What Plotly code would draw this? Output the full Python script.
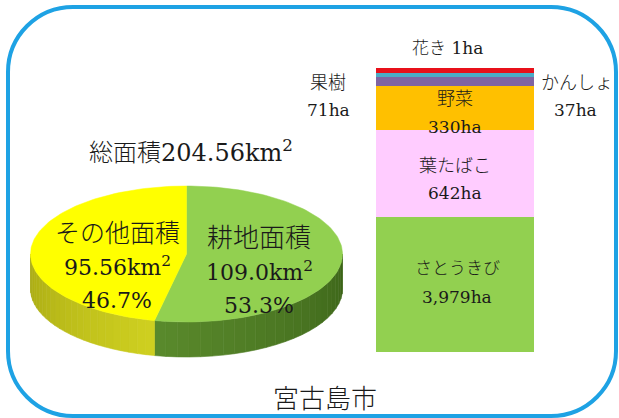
import numpy as np
import plotly.graph_objects as go

# ---------------- data ----------------
pie_labels = ["耕地面積", "その他面積"]
pie_values_km2 = [109.0, 95.56]
pie_top_colors = ["#92d050", "#ffff00"]
pie_side_colors = [("#5a8a2c", "#3c6419"), ("#cfd020", "#a9aa14")]
total_label = "総面積204.56km<sup>2</sup>"

crop_names = ["さとうきび", "葉たばこ", "野菜", "果樹", "かんしょ", "花き"]
crop_area_ha = [3979, 642, 330, 71, 37, 1]
# heights as drawn in the reference (the stacked bar is not to scale)
crop_drawn_units = [135, 87, 44, 9, 4, 5]
crop_colors = ["#92d050", "#ffccff", "#ffc000", "#8064a2", "#4bacc6", "#e8101a"]

W, H = 619, 418
FONT = "DejaVu Serif, Noto Sans CJK JP, serif"

fig = go.Figure()

# ---------------- 3D-looking pie (drawn in pixel axis) ----------------
cx, cy, ra, rb, depth = 186.5, 254.0, 156.0, 68.0, 35.0


def ell(theta_deg, dy=0.0):
    t = np.radians(theta_deg)
    return cx + ra * np.sin(t), cy - rb * np.cos(t) + dy


def mix(c1, c2, f):
    a = [int(c1[i:i + 2], 16) for i in (1, 3, 5)]
    b = [int(c2[i:i + 2], 16) for i in (1, 3, 5)]
    return "#%02x%02x%02x" % tuple(int(round(a[k] + (b[k] - a[k]) * f)) for k in range(3))


total = sum(pie_values_km2)
start = 0.0
spans = []
for v in pie_values_km2:
    sweep = 360.0 * v / total
    spans.append((start, start + sweep))
    start += sweep

# sides (front half only: theta 90..270 clockwise from top)
for (t0, t1), (c_light, c_dark) in zip(spans, pie_side_colors):
    s0, s1 = max(t0, 90.0), min(t1, 270.0)
    if s1 <= s0:
        continue
    n = 24
    edges = np.linspace(s0, s1, n + 1)
    for i in range(n):
        a0, a1 = edges[i], edges[i + 1]
        ts = np.linspace(a0, a1, 6)
        xs_top, ys_top = ell(ts)
        xs_bot, ys_bot = ell(ts[::-1], depth)
        xs = np.concatenate([xs_top, xs_bot, xs_top[:1]])
        ys = np.concatenate([ys_top, ys_bot, ys_top[:1]])
        f = (i + 0.5) / n
        col = mix(c_light, c_dark, 1 - f if t0 < 180 else f)
        fig.add_trace(go.Scatter(x=xs, y=ys, mode="lines", fill="toself",
                                 fillcolor=col, line=dict(width=0.6, color=col),
                                 hoverinfo="skip", showlegend=False))

# top faces
for (t0, t1), col, name in zip(spans, pie_top_colors, pie_labels):
    ts = np.linspace(t0, t1, 120)
    xs, ys = ell(ts)
    xs = np.concatenate([[cx], xs, [cx]])
    ys = np.concatenate([[cy], ys, [cy]])
    fig.add_trace(go.Scatter(x=xs, y=ys, mode="lines", fill="toself",
                             fillcolor=col, line=dict(width=0.5, color=col),
                             name=name, showlegend=False, hoverinfo="skip"))

# ---------------- stacked bar ----------------
for name, ha, u, col in zip(crop_names, crop_area_ha, crop_drawn_units, crop_colors):
    fig.add_trace(go.Bar(x=["宮古島市"], y=[u], marker=dict(color=col, line=dict(width=0)),
                         width=1.0, name=name, showlegend=False,
                         hovertext=f"{name} {ha:,}ha", hoverinfo="text",
                         xaxis="x2", yaxis="y2"))

fig.update_layout(
    width=W, height=H,
    margin=dict(l=0, r=0, t=0, b=0),
    paper_bgcolor="white", plot_bgcolor="rgba(0,0,0,0)",
    barmode="stack", bargap=0,
    xaxis=dict(range=[0, W], visible=False, fixedrange=True),
    yaxis=dict(range=[H, 0], visible=False, fixedrange=True),
    xaxis2=dict(domain=[376 / W, 534 / W], range=[-0.5, 0.5], visible=False,
                anchor="y2", type="category"),
    yaxis2=dict(domain=[(H - 352) / H, (H - 68) / H], range=[0, sum(crop_drawn_units)],
                visible=False, anchor="x2"),
    font=dict(family=FONT, color="#1a1a1a"),
)

# ---------------- border ----------------
L, T, R, B, r = 8, 7, 616, 416, 65
k = r * 0.5523
path = (f"M {L + r},{T} L {R - r},{T} C {R - r + k},{T} {R},{T + r - k} {R},{T + r} "
        f"L {R},{B - r} C {R},{B - r + k} {R - r + k},{B} {R - r},{B} "
        f"L {L + r},{B} C {L + r - k},{B} {L},{B - r + k} {L},{B - r} "
        f"L {L},{T + r} C {L},{T + r - k} {L + r - k},{T} {L + r},{T} Z")
fig.add_shape(type="path", path=path, xref="x", yref="y",
              line=dict(color="#1ea2e4", width=4), layer="above")

# ---------------- text ----------------
def ann(x, y, text, size):
    fig.add_annotation(x=x, y=y, xref="x", yref="y", text=text, showarrow=False,
                       font=dict(size=size, family=FONT, color="#1a1a1a", weight=300),
                       xanchor="center", yanchor="middle")

ann(191, 151, total_label, 24)
ann(117, 233, pie_labels[1], 25)
ann(117, 266, f"{pie_values_km2[1]:.2f}km<sup>2</sup>", 22)
ann(117, 300, f"{100 * pie_values_km2[1] / total:.1f}%", 22)
ann(259, 238, pie_labels[0], 26)
ann(259, 271, f"{pie_values_km2[0]:.1f}km<sup>2</sup>", 22)
ann(259, 305, f"{100 * pie_values_km2[0] / total:.1f}%", 22)
ann(325, 399, "宮古島市", 26)

ann(447, 48, f"{crop_names[5]} {crop_area_ha[5]:,}ha", 17)
ann(328, 82, crop_names[3], 18)
ann(328, 110, f"{crop_area_ha[3]:,}ha", 17)
ann(577, 82, crop_names[4], 18)
ann(575, 110, f"{crop_area_ha[4]:,}ha", 17)
ann(455, 98, crop_names[2], 18)
ann(455, 127, f"{crop_area_ha[2]:,}ha", 17)
ann(455, 165, crop_names[1], 18)
ann(455, 193, f"{crop_area_ha[1]:,}ha", 17)
ann(457, 268, crop_names[0], 17)
ann(457, 297, f"{crop_area_ha[0]:,}ha", 17)

fig.write_html("out.html")
